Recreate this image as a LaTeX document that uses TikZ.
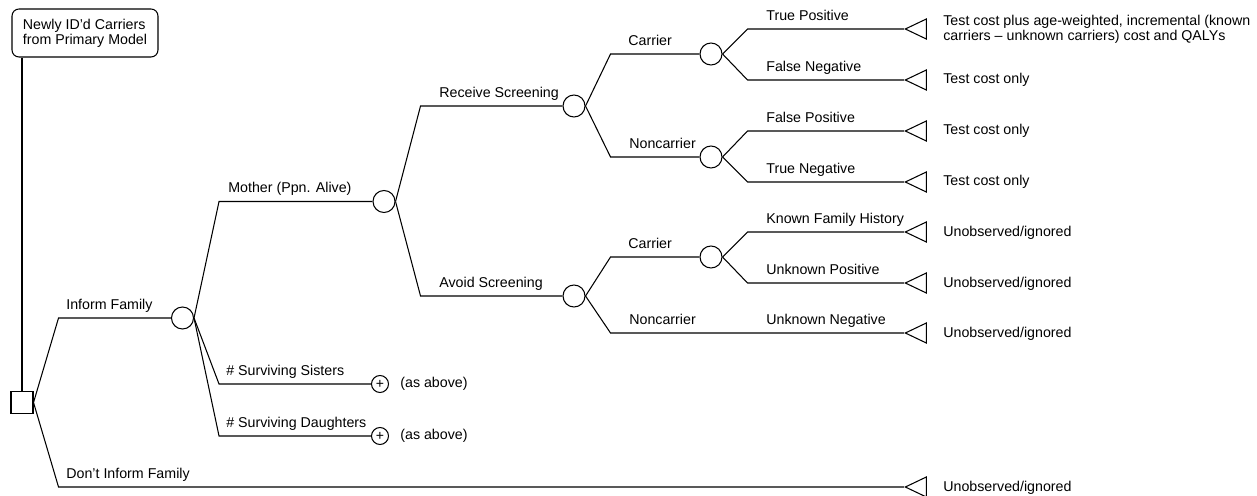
\documentclass[tikz,border=0pt]{standalone}
\usepackage{fontspec}
\setmainfont{Liberation Sans}
\usetikzlibrary{shapes.geometric, positioning, calc}

\tikzset{
    branch/.style={line width=0.6pt},
    startbox/.style={draw, rounded corners=4pt, line width=0.6pt, align=left,
                     minimum width=2.92cm, minimum height=0.96cm, inner sep=0pt},
    decision/.style={draw, rectangle, line width=0.6pt, minimum size=0.44cm, inner sep=0pt},
    chance/.style={draw, circle, line width=0.6pt, minimum size=0.44cm, inner sep=0pt},
    plusnode/.style={draw, circle, line width=0.6pt, minimum size=0.34cm, inner sep=0pt,
                     font=\fontsize{8}{8}\selectfont},
    terminal/.style={draw, isosceles triangle, shape border rotate=180,
                     isosceles triangle stretches, line width=0.6pt,
                     minimum width=0.40cm, minimum height=0.42cm, inner sep=0pt},
    lbl/.style={anchor=base west, inner sep=0pt},
    payoff/.style={anchor=west, inner sep=0pt, align=left},
}
\newcommand{\treebranch}[2]{\draw[branch] (#1.east) -- ($(#1.east |- #2.west)+(25,0)$) -- (#2.west);}

\begin{document}
\begin{tikzpicture}[x=0.02cm, y=-0.02cm, font=\fontsize{8.1}{8.6}\selectfont]
    \useasboundingbox (0,0) rectangle (1257,496);

    % Root
    \node[startbox] (start) at (85,33) {Newly ID’d Carriers\\from Primary Model};
    \node[decision] (dec) at (22,402.5) {};
    \draw[branch] (dec.north |- start.south) -- (dec.north);

    % Chance nodes
    \node[chance] (inform) at (182.5,318) {};
    \node[chance] (mother) at (384,201.5) {};
    \node[chance] (recv) at (574,106) {};
    \node[chance] (avoid) at (574,296) {};
    \node[chance] (rcar) at (711,54) {};
    \node[chance] (rnon) at (711,157) {};
    \node[chance] (acar) at (711,257) {};
    \node[plusnode] (sis) at (380,384) {+};
    \node[plusnode] (dau) at (380,436) {+};

    % Terminal nodes
    \node[terminal] (tp) at (920,29) {};
    \node[terminal] (fn) at (920,80) {};
    \node[terminal] (fp) at (920,131) {};
    \node[terminal] (tn) at (920,182) {};
    \node[terminal] (kfh) at (920,232) {};
    \node[terminal] (upos) at (920,283) {};
    \node[terminal] (uneg) at (920,333) {};
    \node[terminal] (noinf) at (920,487) {};

    % Branches
    \treebranch{dec}{inform}
    \treebranch{dec}{noinf}
    \treebranch{inform}{mother}
    \treebranch{inform}{sis}
    \treebranch{inform}{dau}
    \treebranch{mother}{recv}
    \treebranch{mother}{avoid}
    \treebranch{recv}{rcar}
    \treebranch{recv}{rnon}
    \treebranch{avoid}{acar}
    \treebranch{avoid}{uneg}
    \treebranch{rcar}{tp}
    \treebranch{rcar}{fn}
    \treebranch{rnon}{fp}
    \treebranch{rnon}{tn}
    \treebranch{acar}{kfh}
    \treebranch{acar}{upos}

    % Branch labels
    \node[lbl] (lInform) at (66,309.5) {Inform Family};
    \node[lbl] (lNoInform) at (66,478.5) {Don’t Inform Family};
    \node[lbl] (lMother) at (228,193) {Mother (Ppn. Alive)};
    \node[lbl] (lSisters) at (226,375.5) {\# Surviving Sisters};
    \node[lbl] (lDaughters) at (226,427.5) {\# Surviving Daughters};
    \node[lbl] (lRecv) at (439,97.5) {Receive Screening};
    \node[lbl] (lAvoid) at (439,287.5) {Avoid Screening};
    \node[lbl] (lRCar) at (628,45.5) {Carrier};
    \node[lbl] (lRNon) at (629,148.5) {Noncarrier};
    \node[lbl] (lACar) at (628,248.5) {Carrier};
    \node[lbl] (lANon) at (629,324.5) {Noncarrier};
    \node[lbl] (lTP) at (766,20.5) {True Positive};
    \node[lbl] (lFN) at (766,71.5) {False Negative};
    \node[lbl] (lFP) at (766,122.5) {False Positive};
    \node[lbl] (lTN) at (766,173.5) {True Negative};
    \node[lbl] (lKFH) at (766,223.5) {Known Family History};
    \node[lbl] (lUPos) at (766,274.5) {Unknown Positive};
    \node[lbl] (lUNeg) at (766,324.5) {Unknown Negative};

    % Payoffs
    \node[payoff] (pTP) at (943,29) {Test cost plus age-weighted, incremental (known\\carriers – unknown carriers) cost and QALYs};
    \node[payoff] (pFN) at (943,80) {Test cost only};
    \node[payoff] (pFP) at (943,131) {Test cost only};
    \node[payoff] (pTN) at (943,182) {Test cost only};
    \node[payoff] (pKFH) at (943,233) {Unobserved/ignored};
    \node[payoff] (pUPos) at (943,284) {Unobserved/ignored};
    \node[payoff] (pUNeg) at (943,334) {Unobserved/ignored};
    \node[payoff] (pNoInf) at (943,488) {Unobserved/ignored};
    \node[payoff] (pSis) at (400,384) {(as above)};
    \node[payoff] (pDau) at (400,436) {(as above)};
\end{tikzpicture}
\end{document}
